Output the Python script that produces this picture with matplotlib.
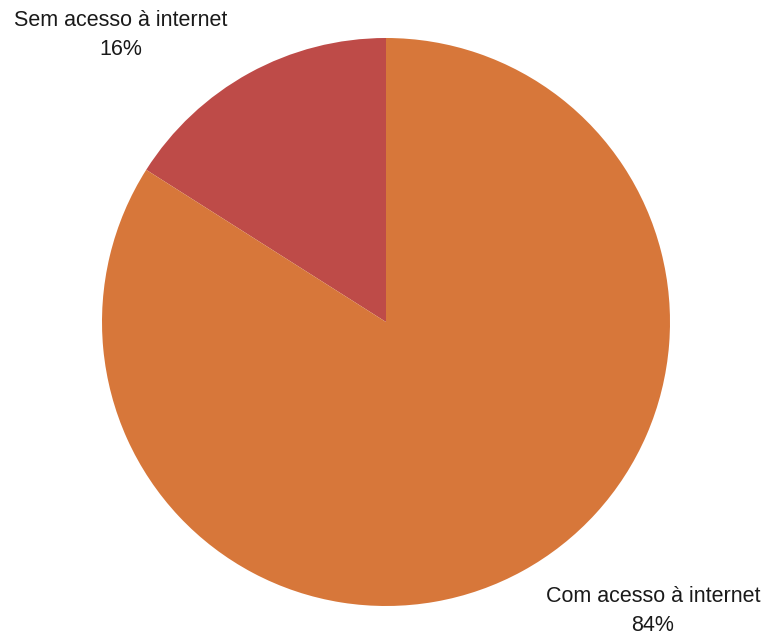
import matplotlib.pyplot as plt

labels = ['Sem acesso à internet', 'Com acesso à internet']
values = [16, 84]
colors = ['#BE4B48', '#D7773A']

plt.rcParams['font.family'] = ['Liberation Sans', 'DejaVu Sans']

W, H = 763, 633
fig = plt.figure(figsize=(W / 100, H / 100), dpi=100)
ax = fig.add_axes([102 / W, 27 / H, 568 / W, 568 / H])
ax.pie(values, colors=colors, startangle=90, counterclock=True,
       radius=1, wedgeprops=dict(linewidth=0))
ax.set_xlim(-1, 1)
ax.set_ylim(-1, 1)

# labels with percentages, placed outside the pie
pos = [(121, 35), (653, 611)]
for lab, v, (px, py) in zip(labels, values, pos):
    fig.text(px / W, 1 - py / H, f'{lab}\n{v}%', ha='center', va='center',
             multialignment='center', fontsize=15.5, color='#1a1a1a',
             linespacing=1.45)

fig.savefig('out.png', dpi=100)
